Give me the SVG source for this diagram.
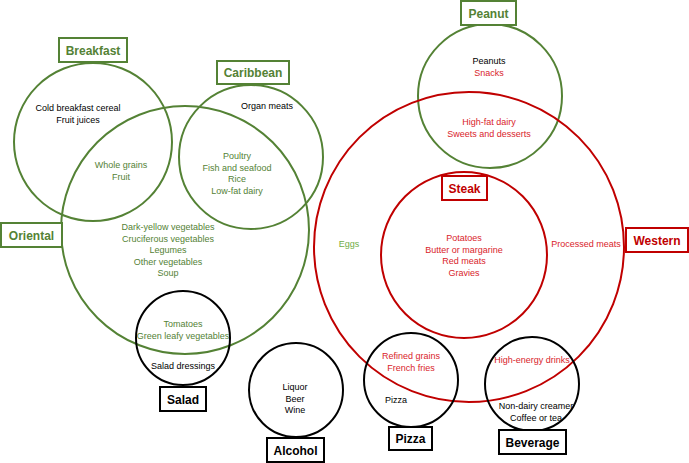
<svg xmlns="http://www.w3.org/2000/svg" width="689" height="463" viewBox="0 0 689 463">
<style>
text{font-family:"Liberation Sans",Arial,sans-serif;font-size:9px;text-anchor:middle}
.t{font-size:12px;font-weight:bold}
.g{fill:#548235}
.lg{fill:#70ad47}
.r{fill:#d9242b}
.k{fill:#000}
.cg{fill:none;stroke:#548235;stroke-width:2}
.cr{fill:none;stroke:#c00000;stroke-width:2}
.ck{fill:none;stroke:#000;stroke-width:2}
.bg{fill:#fff;stroke:#548235;stroke-width:2}
.br{fill:#fff;stroke:#c00000;stroke-width:2}
.bk{fill:#fff;stroke:#000;stroke-width:2}
</style>
<rect width="689" height="463" fill="#fff"/>
<g id="circles">
<circle class="cg" cx="93" cy="142" r="79"/>
<circle class="cg" cx="251" cy="157" r="72"/>
<circle class="cg" cx="185" cy="230" r="124"/>
<circle class="cg" cx="490" cy="96" r="72"/>
<circle class="cr" cx="469" cy="247" r="155"/>
<circle class="cr" cx="464" cy="255" r="83"/>
<circle class="ck" cx="183" cy="338" r="47"/>
<circle class="ck" cx="296" cy="390" r="47"/>
<circle class="ck" cx="411" cy="380" r="47"/>
<circle class="ck" cx="532" cy="384" r="47"/>
</g>
<g id="breakfast">
<rect class="bg" x="59" y="38" width="68" height="24"/>
<text class="t g" x="93" y="54.5">Breakfast</text>
<text class="k" x="78" y="111">Cold breakfast cereal</text>
<text class="k" x="78" y="122.5">Fruit juices</text>
<text class="g" x="121" y="168">Whole grains</text>
<text class="g" x="121" y="179.5">Fruit</text>
</g>
<g id="caribbean">
<rect class="bg" x="217" y="61" width="72" height="23"/>
<text class="t g" x="253" y="77">Caribbean</text>
<text class="k" x="267" y="109">Organ meats</text>
<text class="g" x="237" y="159">Poultry</text>
<text class="g" x="237" y="170.5">Fish and seafood</text>
<text class="g" x="237" y="182">Rice</text>
<text class="g" x="237" y="193.5">Low-fat dairy</text>
</g>
<g id="oriental">
<rect class="bg" x="1" y="223" width="61" height="24"/>
<text class="t g" x="31.5" y="239.5">Oriental</text>
<text class="g" x="168" y="230">Dark-yellow vegetables</text>
<text class="g" x="168" y="241.5">Cruciferous vegetables</text>
<text class="g" x="168" y="253">Legumes</text>
<text class="g" x="168" y="264.5">Other vegetables</text>
<text class="g" x="168" y="276">Soup</text>
</g>
<g id="salad">
<rect class="bk" x="160" y="387" width="46" height="24"/>
<text class="t k" x="183" y="403.5">Salad</text>
<text class="g" x="183" y="327">Tomatoes</text>
<text class="g" x="183" y="338.5">Green leafy vegetables</text>
<text class="k" x="183" y="369">Salad dressings</text>
</g>
<g id="alcohol">
<rect class="bk" x="267" y="438" width="57" height="24"/>
<text class="t k" x="295.5" y="454.5">Alcohol</text>
<text class="k" x="295" y="390">Liquor</text>
<text class="k" x="295" y="401.5">Beer</text>
<text class="k" x="295" y="413">Wine</text>
</g>
<g id="peanut">
<rect class="bg" x="461" y="1" width="55" height="24"/>
<text class="t g" x="488.5" y="17.5">Peanut</text>
<text class="k" x="489" y="64">Peanuts</text>
<text class="r" x="489" y="75.5">Snacks</text>
<text class="r" x="489" y="125">High-fat dairy</text>
<text class="r" x="489" y="136.5">Sweets and desserts</text>
</g>
<g id="western">
<rect class="br" x="626" y="228" width="62" height="24"/>
<text class="t r" x="657" y="244.5" style="fill:#c00000">Western</text>
<text class="lg" x="349" y="247">Eggs</text>
<text class="r" x="586" y="247">Processed meats</text>
</g>
<g id="steak">
<rect class="br" x="442" y="176" width="45" height="24"/>
<text class="t r" x="464.5" y="192.5" style="fill:#c00000">Steak</text>
<text class="r" x="464" y="241">Potatoes</text>
<text class="r" x="464" y="252.5">Butter or margarine</text>
<text class="r" x="464" y="264">Red meats</text>
<text class="r" x="464" y="275.5">Gravies</text>
</g>
<g id="pizza">
<rect class="bk" x="389" y="427" width="43" height="23"/>
<text class="t k" x="410.5" y="443">Pizza</text>
<text class="r" x="411" y="359">Refined grains</text>
<text class="r" x="411" y="370.5">French fries</text>
<text class="k" x="396" y="403">Pizza</text>
</g>
<g id="beverage">
<rect class="bk" x="499" y="430" width="67" height="24"/>
<text class="t k" x="532.5" y="446.5">Beverage</text>
<text class="r" x="532" y="363">High-energy drinks</text>
<text class="k" x="536" y="409">Non-dairy creamer</text>
<text class="k" x="536" y="420.5">Coffee or tea</text>
</g>
<g id="connectors"></g>
</svg>
